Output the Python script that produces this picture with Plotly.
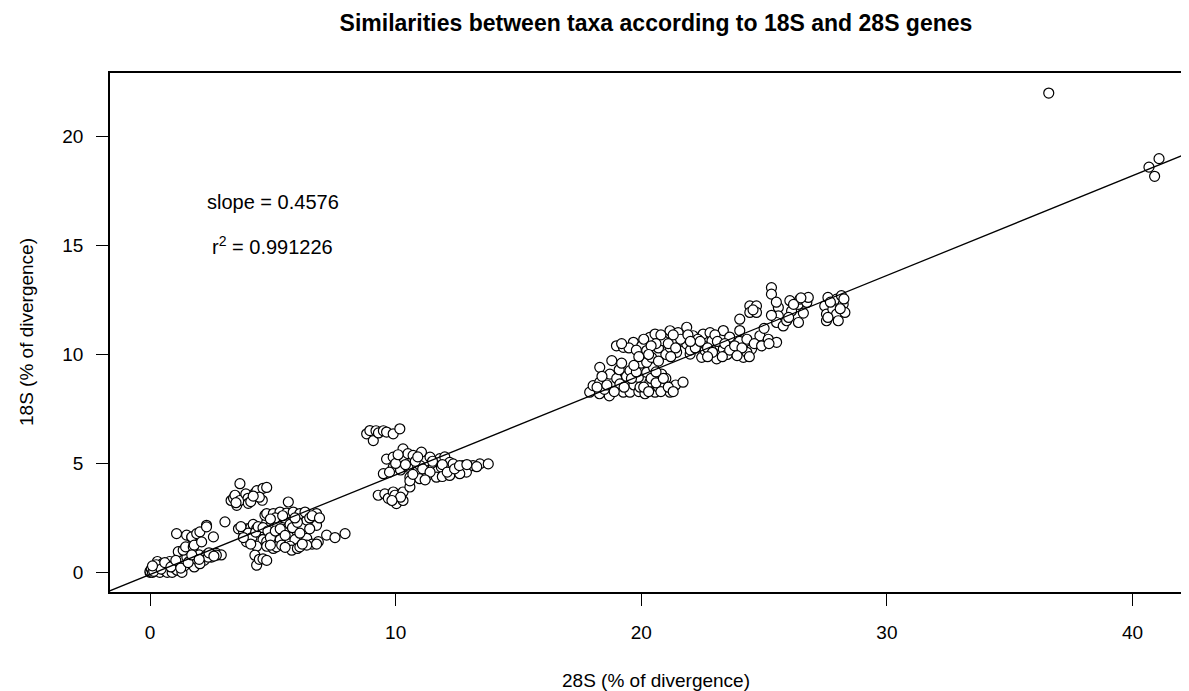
import plotly.graph_objects as go

# ---- data (28S divergence %, 18S divergence %) ----
pts_origin = [(0,0),(0,0.05),(0.05,0.15),(0.1,0),(0.2,0.1),(0.3,0.25),(0.3,0.5),(0.4,0),(0.5,0.2),(0.5,0.4),
              (0.6,0.1),(0.7,0.3),(0.7,0),(0.8,0.5),(0.9,0),(1.0,0.2),(1.0,0.35),(1.1,0.1),(1.2,0.45),(1.3,0.6),
              (1.3,0),(1.4,0.3),(1.5,0.7),(1.6,0.5),(1.8,0.25),(1.9,0.6),(2.0,0.8),(2.2,0.55),(2.3,0.8),(2.5,0.7),
              (2.7,0.87),(2.9,0.8),(1.08,1.78),(1.15,0.95),(1.35,1.02),(1.45,1.17),(1.49,1.71),(1.7,1.6),(1.7,1.63),
              (1.76,1.17),(1.8,1.25),(1.9,1.78),(2.03,1.86),(2.1,1.4),(2.3,2.16),(2.3,2.09),(2.58,1.63),(2.37,0.7),
              (2.03,0.4),(2.7,0.79),(3.05,2.32),
              (0.15,0.05),(0.25,0.35),(0.45,0.15),(0.6,0.45),(0.85,0.25),(1.05,0.55),(1.25,0.2),(1.55,0.45),
              (1.7,0.8),(2.0,0.6),(2.4,0.9),(2.6,0.75),(0.1,0.3)]

pts_a_upper = [(3.3,3.3),(3.4,3.4),(3.46,3.54),(3.53,3.08),(3.66,3.3),(3.66,4.07),(3.9,3.6),(3.99,3.4),
               (4.0,3.17),(4.1,3.25),(4.27,3.63),(4.35,3.75),(4.57,3.31),(4.6,3.86),(4.75,3.9),(4.45,3.45),
               (3.5,3.2),(4.2,3.5)]

pts_a_main = [(3.6,2.0),(3.8,1.9),(3.93,2.0),(4.1,2.05),(4.2,2.2),(4.34,2.0),(4.5,1.95),(4.75,2.3),(4.88,2.1),
              (5.0,2.0),(5.2,2.15),(5.4,2.05),(5.56,2.0),(5.7,2.2),(5.97,1.9),(6.2,2.1),(6.38,2.4),(6.78,2.16),
              (4.68,2.62),(4.75,2.7),(5.02,2.7),(5.29,2.77),(5.56,2.72),(5.83,2.77),(6.1,2.7),(6.31,2.77),
              (6.5,2.5),(6.78,2.7),(5.63,3.23),
              (3.93,1.56),(4.07,1.7),(3.93,1.4),(4.27,1.4),(4.45,1.5),(4.6,1.5),(4.75,1.41),(5.0,1.6),(5.3,1.5),
              (5.63,1.32),(5.9,1.5),(6.38,1.56),(6.6,1.3),(6.85,1.41),(7.19,1.71),(7.53,1.6),(7.94,1.78),
              (4.34,1.2),(4.75,1.2),(5.02,1.1),(5.15,1.17),(5.36,1.25),(5.7,1.2),(5.77,1.02),(6.0,1.1),
              (6.1,1.17),(6.38,1.25),(6.78,1.3),
              (4.27,0.79),(4.34,0.33),(4.45,0.6),(4.6,0.62),(4.75,0.55),
              (3.7,2.1),(4.0,1.8),(4.15,1.6),(4.3,1.85),(4.4,2.1),(4.6,2.05),(4.8,1.9),(4.9,1.6),(5.1,1.9),
              (5.3,2.0),(5.5,1.7),(5.8,2.05),(6.0,2.3),(6.1,1.8),(6.5,2.0),(5.1,2.5),(5.4,2.6),(5.9,2.5),
              (6.6,2.6),(4.9,2.45),(5.5,1.15),(6.2,1.3),(4.9,1.25),(4.1,1.3),(3.8,1.6),(6.9,2.5)]

pts_b = [(8.82,6.36),(8.95,6.51),(9.09,6.05),(9.2,6.5),(9.3,6.4),(9.5,6.5),(9.63,6.44),(9.9,6.36),(10.17,6.59),
         (9.63,5.2),(9.9,5.29),(10.3,5.67),(10.3,5.2),(10.5,5.45),(10.71,5.37),(11.05,5.52),(11.2,5.1),(11.4,5.29),
         (11.6,5.0),(11.8,5.22),(12.0,5.3),(12.2,5.05),
         (9.5,4.53),(9.9,4.83),(10.2,4.7),(10.5,4.83),(10.85,4.6),(11.0,4.9),(11.26,4.53),(11.53,4.83),(11.7,4.65),
         (11.86,4.83),(12.13,4.75),(12.34,4.98),(12.5,4.7),(12.74,4.9),(12.88,4.6),(13.15,4.9),(13.43,4.98),(13.77,4.98),
         (10.58,4.37),(10.98,4.3),(11.3,4.45),(11.66,4.37),(11.9,4.4),(12.2,4.45),(12.61,4.53),
         (9.29,3.54),(9.56,3.6),(9.7,3.4),(9.9,3.69),(9.97,3.54),(10.03,3.16),(10.3,3.69),(10.3,3.3),
         (10.58,3.92),(10.58,4.2),
         (10.0,5.0),(10.4,4.95),(10.8,5.1),(11.1,4.75),(11.4,4.6),(11.5,5.1),(11.9,4.95),(12.1,4.6),
         (12.4,4.75),(12.6,4.9),(10.7,4.5),(11.2,4.25),(10.1,5.4),(10.9,5.3),(12.9,4.95),(13.3,4.85),
         (9.75,4.6),(10.2,3.45),(9.85,3.3)]

pts_c = [(17.9,8.27),(18.04,8.57),(18.3,8.2),(18.31,8.73),(18.31,9.41),(18.7,8.1),(18.72,9.1),(18.8,9.72),
         (19.0,8.9),(19.13,8.65),(19.27,8.27),(19.4,9.0),(19.54,9.26),(19.54,8.27),(19.7,8.6),(19.88,8.95),
         (19.9,8.3),(19.95,8.5),(20.15,8.2),(20.22,9.18),(20.35,8.73),(20.5,9.4),(20.56,8.27),(20.7,8.5),
         (20.83,9.1),(20.9,8.57),(21.0,8.9),(21.17,8.27),(21.4,8.6),(21.7,8.73),(18.5,8.4),(19.1,9.3),
         (20.0,9.6),(20.4,8.9),(20.8,8.3),
         (18.2,8.5),(18.6,8.6),(18.9,8.3),(19.3,8.5),(19.6,8.9),(19.8,9.2),(20.1,8.5),(20.3,8.3),
         (20.6,8.7),(20.9,8.9),(21.1,8.5),(19.2,9.6),(19.7,9.5),(20.6,9.2),(21.3,8.3),(18.4,9.0)]

pts_band = [(18.99,10.4),(19.27,10.33),(19.68,10.56),(20.02,10.4),(20.22,10.18),(20.22,9.64),(20.35,10.79),
            (20.42,9.87),(20.56,10.94),(20.7,10.3),(20.9,10.63),(21.0,10.0),(21.17,11.09),(21.17,10.33),
            (21.3,10.7),(21.44,10.1),(21.58,10.94),(21.7,10.6),(21.85,11.25),(21.85,10.48),(21.99,10.02),
            (22.11,10.86),(22.25,10.48),(22.46,9.87),(22.52,10.94),(22.53,10.4),(22.6,10.18),(22.8,11.0),
            (22.88,10.63),(23.07,9.8),(23.2,10.4),(23.34,11.1),(23.34,10.25),(23.5,10.0),(23.68,10.56),
            (23.88,10.18),(24.01,11.62),(24.01,11.1),(24.16,9.87),(24.36,10.48),(24.42,12.23),(24.69,12.23),
            (24.42,11.93),(24.69,11.93),(24.49,10.25),(24.83,10.86),(25.17,10.7),(25.51,10.56),(25.3,13.07),
            (25.3,12.77),(25.58,12.16),(25.58,11.77),(25.51,11.47),(25.78,11.31),(25.92,11.55),(26.05,12.47),
            (26.12,12.0),(26.39,12.3),(26.4,11.47),(26.46,12.54),(26.74,12.39),(26.8,12.62),(27.47,12.23),
            (27.54,11.85),(27.54,11.55),(27.6,12.62),(27.8,12.08),(27.95,12.54),(27.95,11.85),(28.02,11.55),
            (28.15,12.7),(28.22,12.31),(28.29,11.93),
            (22.0,10.2),(22.3,10.7),(23.0,10.9),(23.6,10.8),(24.0,10.6),(24.3,10.1),(21.5,11.0),(20.6,10.5),
            (19.5,10.3),
            (19.2,10.5),(19.8,10.2),(20.1,10.7),(20.4,10.4),(20.8,10.9),(21.1,10.5),(21.4,10.3),(21.6,10.7),
            (21.9,10.9),(22.2,10.3),(22.4,10.6),(22.7,10.3),(22.9,10.1),(23.1,10.6),(23.4,10.5),(23.6,10.2),
            (23.8,10.4),(24.1,10.3),(24.3,10.7),(24.6,10.5),(24.9,10.4),(25.2,10.5),(25.0,11.2),(25.3,11.8),
            (26.0,11.7),(26.2,12.3),(26.6,11.9),(27.7,12.4),(28.1,12.1),(27.6,11.7),(28.25,12.55),(26.5,12.6),
            (25.5,12.4),(24.55,12.05),(22.0,10.6),(21.3,10.9),(20.3,10.0),(19.9,9.9),(20.7,9.7),(21.2,9.9),
            (23.3,9.9),(23.9,9.95),(24.4,9.9),(22.7,9.9)]

pts_outliers = [(36.59,22.0),(40.67,18.6),(41.08,18.99),(40.9,18.18)]

slope = 0.4576
intercept = -0.1
r_squared = 0.991226

x_range = [-1.63, 42.3]
y_range = [-0.9, 22.92]
x_ticks = [0, 10, 20, 30, 40]
y_ticks = [0, 5, 10, 15, 20]

all_pts = pts_origin + pts_a_upper + pts_a_main + pts_b + pts_c + pts_band + pts_outliers
xs = [p[0] for p in all_pts]
ys = [p[1] for p in all_pts]

fit_x = [x_range[0] - 1, x_range[1] + 3]
fit_y = [slope * v + intercept for v in fit_x]

FONT = "Liberation Sans, Arial, sans-serif"

# page body has an 8px default margin, so the figure is sized 8px smaller
W, H = 1181, 683

fig = go.Figure()
fig.add_trace(go.Scatter(
    x=xs, y=ys, mode="markers",
    marker=dict(symbol="circle", size=10, color="white",
                line=dict(color="black", width=1.2)),
    showlegend=False, hoverinfo="x+y"))
fig.add_trace(go.Scatter(
    x=fit_x, y=fit_y, mode="lines",
    line=dict(color="black", width=1.3),
    showlegend=False, hoverinfo="skip"))

fig.update_layout(
    width=W, height=H,
    margin=dict(l=102, r=0, t=65, b=99),
    paper_bgcolor="white", plot_bgcolor="white",
    font=dict(family=FONT, color="black", size=19),
    title=dict(text="<b>Similarities between taxa according to 18S and 28S genes</b>",
               font=dict(family=FONT, size=23, color="black"),
               x=0.506, xref="paper", xanchor="center",
               y=1 - 15 / H, yref="container", yanchor="middle"),
    xaxis=dict(range=x_range, tickvals=x_ticks, ticks="outside", ticklen=12, tickwidth=1.4,
               tickcolor="black", showline=True, linecolor="black", linewidth=1.5, mirror=True,
               showgrid=False, zeroline=False, tickfont=dict(size=19), ticklabelstandoff=10),
    yaxis=dict(range=y_range, tickvals=y_ticks, ticks="outside", ticklen=12, tickwidth=1.4,
               tickcolor="black", showline=True, linecolor="black", linewidth=1.5, mirror=False,
               showgrid=False, zeroline=False, tickfont=dict(size=19), ticklabelstandoff=9),
    annotations=[
        dict(x=5, y=17, xref="x", yref="y", text="slope = 0.4576", showarrow=False,
             font=dict(size=20), xanchor="center", yanchor="middle"),
        dict(x=5, y=15, xref="x", yref="y", text="r<sup>2</sup> = %s" % r_squared, showarrow=False,
             font=dict(size=20), xanchor="center", yanchor="middle"),
        dict(x=(656 - 110) / 1079, y=-(680 - 592) / 519, xref="paper", yref="paper",
             text="28S (% of divergence)", showarrow=False, font=dict(size=19),
             xanchor="center", yanchor="middle"),
        dict(x=(26 - 110) / 1079, y=(592 - 332) / 519, xref="paper", yref="paper",
             text="18S (% of divergence)", showarrow=False, font=dict(size=19),
             textangle=-90, xanchor="center", yanchor="middle"),
    ],
)

fig.write_html("out.html")
